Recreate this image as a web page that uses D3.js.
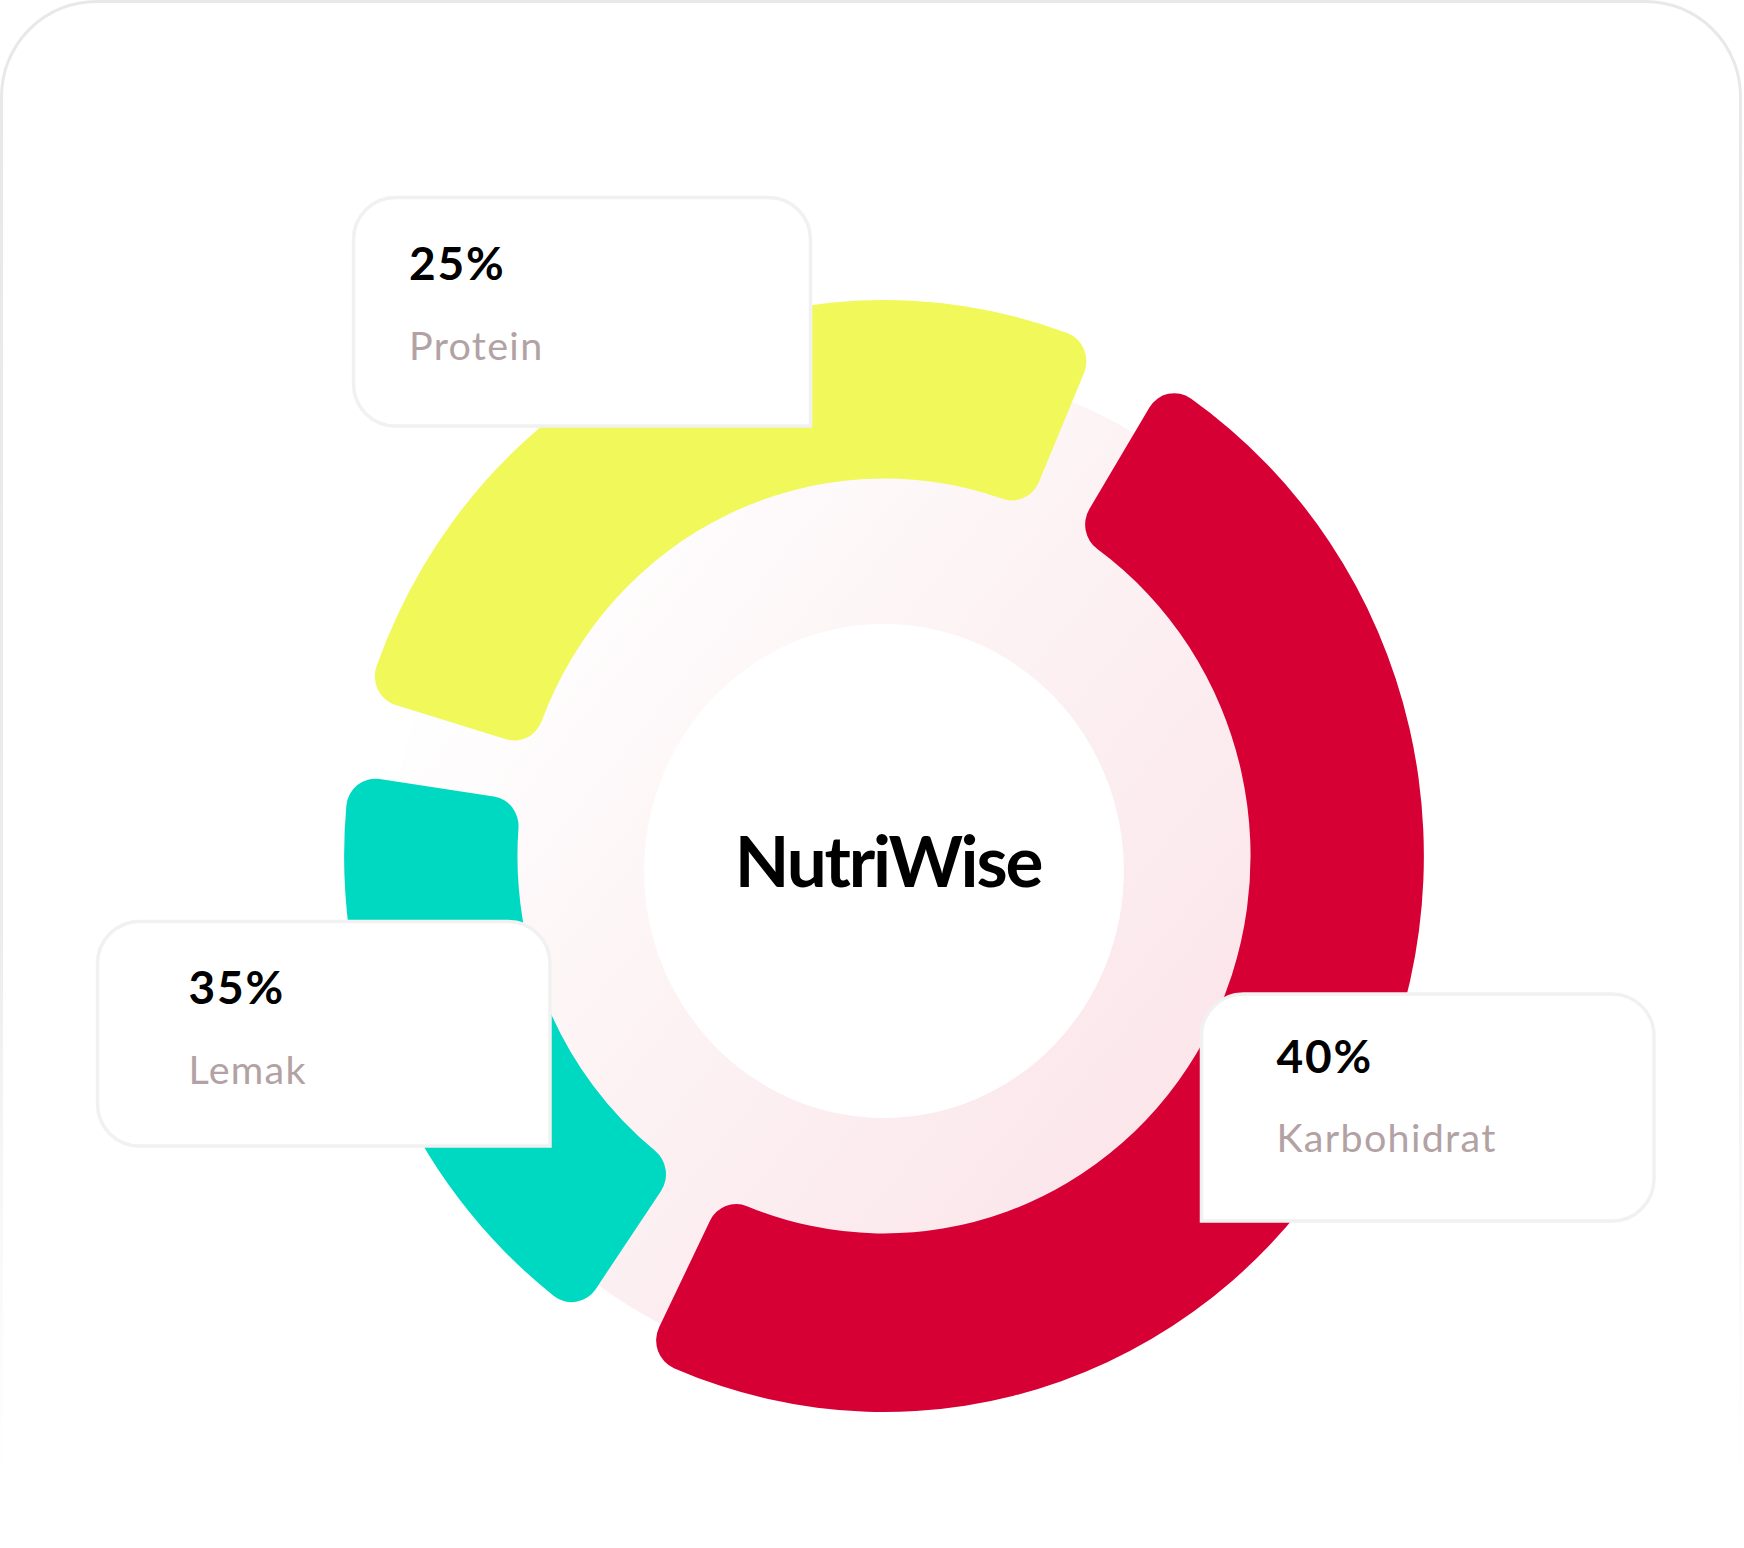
<!DOCTYPE html>
<html>
<head>
<meta charset="utf-8">
<script src="https://cdn.jsdelivr.net/npm/d3@7"></script>
<style>
  html, body { margin: 0; padding: 0; background: #ffffff; }
  svg { display: block; }
</style>
</head>
<body>
<svg id="chart" width="1744" height="1548"></svg>
<script>
// ---- data ----
const categories = ["Protein", "Karbohidrat", "Lemak"];
const percentLabels = ["25%", "40%", "35%"];
// visible arc span of each segment, in degrees, as drawn
const arcSpans = [96.4, 174.8, 64.0];
const segmentColors = ["#f1f85a", "#d70034", "#00d9c1"];
const centerTitle = "NutriWise";

// ---- layout ----
const W = 1744, H = 1548;
const cx = 884, cy = 856, squeezeX = 0.971;
const rOuter = 556, rInner = 377.5, corner = 30;
const firstStartDeg = 286.7;
const bgCy = 871, bgOuter = 508, bgInner = 247;

const cards = [
  { x: 353.5, y: 197.5, w: 457, h: 228.5, square: "br", tx: 55.5, py: 82.5, ly: 162.5 },
  { x: 1201.5, y: 994, w: 452.5, h: 227, square: "bl", tx: 75, py: 79, ly: 158 },
  { x: 97.5, y: 921.5, w: 452.5, h: 224.5, square: "br", tx: 91, py: 82, ly: 162 }
];

const svg = d3.select("#chart");
const defs = svg.append("defs");

// outer frame gradient (fades out to the bottom)
const fg = defs.append("linearGradient").attr("id", "frameGrad")
  .attr("x1", 0).attr("y1", 0).attr("x2", 0).attr("y2", 1);
fg.append("stop").attr("offset", "0").attr("stop-color", "#e8e8e8").attr("stop-opacity", 1);
fg.append("stop").attr("offset", "0.6").attr("stop-color", "#ececec").attr("stop-opacity", 1);
fg.append("stop").attr("offset", "0.97").attr("stop-color", "#f4f4f4").attr("stop-opacity", 0);

// soft pink ring gradient
const pg = defs.append("linearGradient").attr("id", "pinkGrad")
  .attr("x1", "0.12").attr("y1", "0.2").attr("x2", "0.9").attr("y2", "0.85");
pg.append("stop").attr("offset", "0").attr("stop-color", "#ffffff");
pg.append("stop").attr("offset", "0.45").attr("stop-color", "#fcf1f3");
pg.append("stop").attr("offset", "1").attr("stop-color", "#fbe2e7");

svg.append("rect")
  .attr("x", 1.5).attr("y", 1.5).attr("width", W - 5).attr("height", H - 4)
  .attr("rx", 95).attr("ry", 95)
  .attr("fill", "#ffffff").attr("stroke", "url(#frameGrad)").attr("stroke-width", 3);

// ---- donut ----
const g = svg.append("g").attr("transform", `translate(${cx},${cy}) scale(${squeezeX},1)`);

// background ring
const bgArc = d3.arc().innerRadius(bgInner).outerRadius(bgOuter).startAngle(0).endAngle(2 * Math.PI);
g.append("path")
  .attr("transform", `translate(0,${bgCy - cy})`)
  .attr("d", bgArc())
  .attr("fill", "url(#pinkGrad)");

const total = d3.sum(arcSpans);
const gapRad = (2 * Math.PI - total * Math.PI / 180) / arcSpans.length;
const start = firstStartDeg * Math.PI / 180 - gapRad / 2;

const pie = d3.pie().sort(null).value(d => d)
  .startAngle(start).endAngle(start + 2 * Math.PI).padAngle(gapRad);

const arc = d3.arc()
  .innerRadius(rInner).outerRadius(rOuter).cornerRadius(corner)
  .startAngle(d => d.startAngle + d.padAngle / 2)
  .endAngle(d => d.endAngle - d.padAngle / 2)
  .padAngle(0);

g.selectAll("path.seg")
  .data(pie(arcSpans))
  .join("path")
  .attr("class", "seg")
  .attr("d", arc)
  .attr("fill", (d, i) => segmentColors[i]);

// center title
svg.append("text")
  .attr("x", 888).attr("y", 887)
  .attr("text-anchor", "middle")
  .attr("font-family", "Lato, 'Noto Sans', sans-serif")
  .attr("font-weight", 700)
  .attr("font-size", 71)
  .attr("letter-spacing", -2.2)
  .attr("fill", "#000000")
  .text(centerTitle);

// ---- label cards ----
function cardPath(x, y, w, h, r, square) {
  const rtl = square === "tl" ? 0 : r, rtr = square === "tr" ? 0 : r;
  const rbr = square === "br" ? 0 : r, rbl = square === "bl" ? 0 : r;
  const p = d3.path();
  p.moveTo(x + rtl, y);
  p.lineTo(x + w - rtr, y);
  if (rtr) p.arcTo(x + w, y, x + w, y + rtr, rtr);
  p.lineTo(x + w, y + h - rbr);
  if (rbr) p.arcTo(x + w, y + h, x + w - rbr, y + h, rbr); else p.lineTo(x + w, y + h);
  p.lineTo(x + rbl, y + h);
  if (rbl) p.arcTo(x, y + h, x, y + h - rbl, rbl); else p.lineTo(x, y + h);
  p.lineTo(x, y + rtl);
  if (rtl) p.arcTo(x, y, x + rtl, y, rtl);
  p.closePath();
  return p.toString();
}

const cardG = svg.selectAll("g.card")
  .data(categories)
  .join("g").attr("class", "card");

cardG.append("path")
  .attr("d", (d, i) => cardPath(cards[i].x, cards[i].y, cards[i].w, cards[i].h, 42, cards[i].square))
  .attr("fill", "#ffffff")
  .attr("stroke", "#f1f1f1")
  .attr("stroke-width", 3.5);

cardG.append("text")
  .attr("x", (d, i) => cards[i].x + cards[i].tx)
  .attr("y", (d, i) => cards[i].y + cards[i].py)
  .attr("font-family", "Lato, 'Noto Sans', sans-serif")
  .attr("font-weight", 700)
  .attr("font-size", 46)
  .attr("letter-spacing", 1.8)
  .attr("fill", "#000000")
  .text((d, i) => percentLabels[i]);

cardG.append("text")
  .attr("x", (d, i) => cards[i].x + cards[i].tx)
  .attr("y", (d, i) => cards[i].y + cards[i].ly)
  .attr("font-family", "Lato, 'Noto Sans', sans-serif")
  .attr("font-weight", 400)
  .attr("font-size", 39.5)
  .attr("letter-spacing", 1.3)
  .attr("fill", "#b3a2a4")
  .text(d => d);
</script>
</body>
</html>
